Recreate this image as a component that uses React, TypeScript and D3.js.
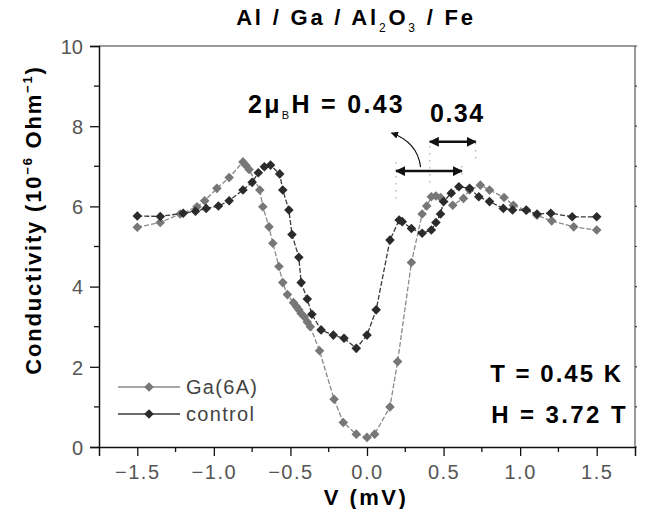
import React, { useEffect, useRef } from 'react'
import * as d3 from 'd3'

// Ga(6A) sample: voltage (mV) and conductivity (1e-6 Ohm^-1)
const gaV = [-1.5, -1.35, -1.22, -1.11, -1.06, -0.98, -0.9, -0.81, -0.79, -0.77, -0.7, -0.68, -0.64, -0.615, -0.575, -0.55, -0.52, -0.48, -0.46, -0.445, -0.43, -0.41, -0.39, -0.37, -0.31, -0.215, -0.155, -0.07, 0.0, 0.05, 0.15, 0.2, 0.29, 0.36, 0.39, 0.42, 0.45, 0.48, 0.56, 0.63, 0.67, 0.74, 0.8, 0.895, 0.956, 1.04, 1.11, 1.206, 1.35, 1.5]
const gaG = [5.48, 5.6, 5.81, 5.99, 6.14, 6.45, 6.72, 7.11, 7.02, 6.92, 6.41, 5.99, 5.49, 5.08, 4.5, 4.1, 3.8, 3.6, 3.5, 3.42, 3.33, 3.25, 3.12, 3.0, 2.4, 1.19, 0.61, 0.32, 0.24, 0.32, 1.0, 2.13, 4.6, 5.81, 6.01, 6.24, 6.26, 6.22, 6.03, 6.2, 6.41, 6.53, 6.41, 6.22, 6.03, 5.9, 5.78, 5.64, 5.49, 5.41]

// control sample
const ctV = [-1.5, -1.35, -1.2, -1.12, -1.05, -0.97, -0.9, -0.81, -0.75, -0.71, -0.67, -0.63, -0.57, -0.55, -0.51, -0.49, -0.445, -0.43, -0.39, -0.36, -0.3, -0.22, -0.15, -0.07, 0.0, 0.06, 0.15, 0.21, 0.23, 0.29, 0.36, 0.42, 0.45, 0.48, 0.5, 0.55, 0.6, 0.67, 0.73, 0.8, 0.89, 0.95, 1.04, 1.11, 1.2, 1.34, 1.5]
const ctG = [5.76, 5.75, 5.83, 5.88, 5.95, 6.01, 6.14, 6.41, 6.6, 6.84, 6.99, 7.03, 6.81, 6.41, 5.91, 5.3, 4.73, 4.1, 3.69, 3.31, 2.92, 2.79, 2.71, 2.46, 2.79, 3.42, 5.16, 5.66, 5.62, 5.45, 5.33, 5.41, 5.6, 5.81, 6.12, 6.33, 6.49, 6.45, 6.24, 6.12, 5.95, 5.91, 5.91, 5.81, 5.83, 5.74, 5.74]

const xTicks = [-1.5, -1.0, -0.5, 0.0, 0.5, 1.0, 1.5]
const yTicks = [0, 2, 4, 6, 8, 10]

// Zeeman splitting markers (mV)
const splitLong = [0.19, 0.62]
const splitShort = [0.41, 0.71]

const W = 645
const H = 517
const M = { left: 99, right: 10, top: 46, bottom: 70 }

function App() {
  const ref = useRef<SVGSVGElement>(null)

  useEffect(() => {
    const svg = d3.select(ref.current)
    svg.selectAll('*').remove()

    const x = d3.scaleLinear().domain([-1.75, 1.75]).range([M.left, W - M.right])
    const y = d3.scaleLinear().domain([0, 10]).range([H - M.bottom, M.top])
    const x0 = M.left
    const x1 = W - M.right
    const y0 = y(0)
    const y1 = y(10)
    const font = 'Liberation Sans, Arial, sans-serif'

    // frame: top and right in gray
    svg.append('line').attr('x1', x0).attr('x2', x1).attr('y1', y1).attr('y2', y1)
      .attr('stroke', '#777').attr('stroke-width', 1.5)
    svg.append('line').attr('x1', x1).attr('x2', x1).attr('y1', y1).attr('y2', y0)
      .attr('stroke', '#777').attr('stroke-width', 1.5)
    svg.selectAll('.rtick').data(d3.range(0, 11, 1)).enter().append('line')
      .attr('x1', x1).attr('x2', x1 + 3).attr('y1', d => y(d)).attr('y2', d => y(d))
      .attr('stroke', '#444').attr('stroke-width', 1.2)

    // left axis
    const yAxis = d3.axisLeft(y).tickValues(yTicks).tickSize(9).tickPadding(7).tickFormat(d3.format('d'))
    const gy = svg.append('g').attr('transform', `translate(${x0},0)`).call(yAxis)
    gy.selectAll('.domain').attr('stroke', '#111').attr('stroke-width', 1.5)
    gy.selectAll('line').attr('stroke', '#111').attr('stroke-width', 1.3)
    gy.selectAll('text').attr('font-family', font)
      .attr('font-size', 20).attr('fill', '#555').attr('dy', '0.36em')
    svg.selectAll('.ymin').data([1, 3, 5, 7, 9]).enter().append('line')
      .attr('x1', x0 - 5).attr('x2', x0).attr('y1', d => y(d)).attr('y2', d => y(d))
      .attr('stroke', '#111').attr('stroke-width', 1.3)

    // bottom axis
    const xAxis = d3.axisBottom(x).tickValues(xTicks).tickSize(9).tickPadding(6).tickFormat(d3.format('.1f'))
    const gx = svg.append('g').attr('transform', `translate(0,${y0})`).call(xAxis)
    gx.selectAll('.domain').attr('stroke', '#111').attr('stroke-width', 1.5)
    gx.selectAll('line').attr('stroke', '#111').attr('stroke-width', 1.3)
    gx.selectAll('text').attr('font-family', font)
      .attr('font-size', 20).attr('fill', '#555').attr('letter-spacing', 1.5).attr('dy', '0.85em')
    svg.selectAll('.xmin').data([-1.25, -0.75, -0.25, 0.25, 0.75, 1.25]).enter().append('line')
      .attr('x1', d => x(d)).attr('x2', d => x(d)).attr('y1', y0).attr('y2', y0 + 5)
      .attr('stroke', '#111').attr('stroke-width', 1.3)

    // series
    const diamond = d3.symbol(d3.symbolSquare, 46)
    const series = [
      { v: gaV, g: gaG, line: '#8a8a8a', fill: '#777777' },
      { v: ctV, g: ctG, line: '#3a3a3a', fill: '#2b2b2b' }
    ]
    const line = d3.line<[number, number]>().x(d => x(d[0])).y(d => y(d[1]))
    series.forEach(s => {
      const pts = s.v.map((v, i) => [v, s.g[i]] as [number, number])
      svg.append('path').attr('d', line(pts)).attr('fill', 'none')
        .attr('stroke', s.line).attr('stroke-width', 1.3).attr('stroke-dasharray', '5,2')
      svg.selectAll(null).data(pts).enter().append('path')
        .attr('d', diamond)
        .attr('transform', d => `translate(${x(d[0])},${y(d[1])}) rotate(45)`)
        .attr('fill', s.fill)
    })

    // title
    const t = svg.append('text').attr('x', 356).attr('y', 25).attr('text-anchor', 'middle')
      .attr('font-family', font).attr('font-weight', 'bold').attr('font-size', 22)
      .attr('letter-spacing', 2.8).attr('fill', '#000')
    t.append('tspan').text('Al / Ga / Al')
    t.append('tspan').attr('font-size', 12).attr('font-weight', 'normal').attr('dy', 7).text('2')
    t.append('tspan').attr('dy', -7).text('O')
    t.append('tspan').attr('font-size', 12).attr('font-weight', 'normal').attr('dy', 7).text('3')
    t.append('tspan').attr('dy', -7).text(' / Fe')

    // y title
    const yt = svg.append('text').attr('transform', `translate(41,220) rotate(-90)`)
      .attr('text-anchor', 'middle').attr('font-family', font).attr('font-weight', 'bold')
      .attr('font-size', 22).attr('letter-spacing', 1.8).attr('fill', '#000')
    yt.append('tspan').text('Conductivity (10')
    yt.append('tspan').attr('font-size', 13).attr('dy', -9).text('−6')
    yt.append('tspan').attr('dy', 9).text(' Ohm')
    yt.append('tspan').attr('font-size', 13).attr('dy', -9).text('−1')
    yt.append('tspan').attr('dy', 9).text(')')

    // x title
    svg.append('text').attr('x', 366).attr('y', 505).attr('text-anchor', 'middle')
      .attr('font-family', font).attr('font-weight', 'bold').attr('font-size', 22)
      .attr('letter-spacing', 2.5).attr('fill', '#000').text('V (mV)')

    // legend
    const legend = [
      { label: 'Ga(6A)', s: series[0], ly: 387 },
      { label: 'control', s: series[1], ly: 414 }
    ]
    legend.forEach(l => {
      svg.append('line').attr('x1', 118).attr('x2', 180).attr('y1', l.ly).attr('y2', l.ly)
        .attr('stroke', l.s.line).attr('stroke-width', 1.5)
      svg.append('path').attr('d', diamond).attr('transform', `translate(149,${l.ly}) rotate(45)`)
        .attr('fill', l.s.fill)
      svg.append('text').attr('x', 186).attr('y', l.ly + 7).attr('font-family', font)
        .attr('font-size', 20).attr('letter-spacing', 1.3).attr('fill', '#444').text(l.label)
    })

    // T and H
    svg.append('text').attr('x', 623).attr('y', 382).attr('text-anchor', 'end')
      .attr('font-family', font).attr('font-weight', 'bold').attr('font-size', 24)
      .attr('letter-spacing', 2).attr('fill', '#000').text('T = 0.45 K')
    svg.append('text').attr('x', 628).attr('y', 423).attr('text-anchor', 'end')
      .attr('font-family', font).attr('font-weight', 'bold').attr('font-size', 24)
      .attr('letter-spacing', 2.4).attr('fill', '#000').text('H = 3.72 T')

    // annotation text
    const a = svg.append('text').attr('x', 248).attr('y', 113).attr('font-family', font)
      .attr('font-weight', 'bold').attr('font-size', 25).attr('letter-spacing', 2.3).attr('fill', '#000')
    a.append('tspan').text('2μ')
    a.append('tspan').attr('font-size', 11).attr('font-weight', 'normal').attr('dy', 6).text('B')
    a.append('tspan').attr('dy', -6).text('H = 0.43')
    svg.append('text').attr('x', 430).attr('y', 122).attr('font-family', font)
      .attr('font-weight', 'bold').attr('font-size', 25).attr('letter-spacing', 1.5)
      .attr('fill', '#000').text('0.34')

    // dotted guides
    const guides = [
      { v: 0.19, a: 6.2, b: 7.2 },
      { v: 0.41, a: 6.6, b: 7.55 },
      { v: 0.62, a: 6.8, b: 7.1 },
      { v: 0.71, a: 7.2, b: 7.7 }
    ]
    guides.forEach(g => {
      svg.append('line').attr('x1', x(g.v)).attr('x2', x(g.v)).attr('y1', y(g.a)).attr('y2', y(g.b))
        .attr('stroke', '#666').attr('stroke-width', 1).attr('stroke-dasharray', '1,6')
    })

    // double arrows
    const defs = svg.append('defs')
    defs.append('marker').attr('id', 'ah').attr('viewBox', '0 0 10 10').attr('refX', 9).attr('refY', 5)
      .attr('markerWidth', 4).attr('markerHeight', 4).attr('orient', 'auto-start-reverse')
      .append('path').attr('d', 'M0,0L10,5L0,10z').attr('fill', '#111')
    const arrows = [
      { r: splitLong, g: 6.88 },
      { r: splitShort, g: 7.61 }
    ]
    arrows.forEach(ar => {
      svg.append('line').attr('x1', x(ar.r[0])).attr('x2', x(ar.r[1]))
        .attr('y1', y(ar.g)).attr('y2', y(ar.g)).attr('stroke', '#111').attr('stroke-width', 2.5)
        .attr('marker-start', 'url(#ah)').attr('marker-end', 'url(#ah)')
    })

    // curved pointer
    defs.append('marker').attr('id', 'ah2').attr('viewBox', '0 0 10 10').attr('refX', 9).attr('refY', 5)
      .attr('markerWidth', 6).attr('markerHeight', 6).attr('orient', 'auto')
      .append('path').attr('d', 'M0,0L10,5L0,10z').attr('fill', '#111')
    svg.append('path').attr('d', `M${x(0.35)},${y(6.98)} Q${x(0.33)},${y(7.6)} ${x(0.16)},${y(7.83)}`)
      .attr('fill', 'none').attr('stroke', '#111').attr('stroke-width', 1.2).attr('marker-end', 'url(#ah2)')
  }, [])

  return <svg ref={ref} width={W} height={H} style={{ display: 'block', margin: '-8px', background: '#fff' }} />
}

export default App
